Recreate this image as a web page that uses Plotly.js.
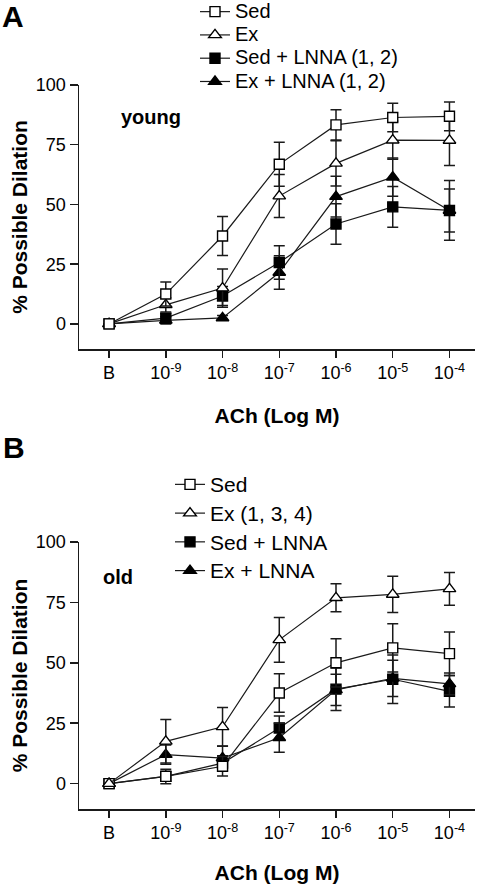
<!DOCTYPE html>
<html>
<head>
<meta charset="utf-8">
<script src="https://cdn.plot.ly/plotly-3.0.1.min.js"></script>
<style>html,body{margin:0;padding:0;background:#fff;}#chart{width:492px;height:884px;}</style>
</head>
<body>
<div id="chart"></div>
<script>
// ---- data ----
const doses = ['B', '10<sup>-9</sup>', '10<sup>-8</sup>', '10<sup>-7</sup>', '10<sup>-6</sup>', '10<sup>-5</sup>', '10<sup>-4</sup>'];
const yTicks = [0, 25, 50, 75, 100];

// Panel A (young)
const youngSed = [0, 12.5, 36.8, 66.8, 83.3, 86.4, 86.9];
const youngSedErr = [0, 5, 8.2, 9.2, 6.3, 6, 6];
const youngEx = [0, 8, 15, 53.5, 67.2, 76.9, 76.8];
const youngExErr = [0, 3, 8, 9, 9.5, 8, 10.5];
const youngSedL = [0, 2.4, 11.7, 25.7, 41.8, 49, 47.5];
const youngSedLErr = [0, 2, 4, 7, 8.5, 8.5, 9];
const youngExL = [0, 1.5, 2.5, 21.5, 53.3, 61.4, 47.5];
const youngExLErr = [0, 1.5, 1, 7, 8.5, 8, 12.5];
const youngNames = ['Sed', 'Ex', 'Sed + LNNA (1, 2)', 'Ex + LNNA (1, 2)'];

// Panel B (old)
const oldSed = [0, 3, 7.2, 37.5, 50, 56.2, 53.8];
const oldSedErr = [0, 3, 4, 8, 10, 10, 9];
const oldEx = [0, 17.5, 23.5, 59.5, 76.9, 78.3, 80.6];
const oldExErr = [0, 9, 8, 9.3, 5.8, 7.5, 6.8];
const oldSedL = [0, 3, 8.5, 23, 39.1, 43.2, 38.2];
const oldSedLErr = [0, 2, 3, 5, 8.8, 10, 6.5];
const oldExL = [0, 12, 10.6, 19, 38.8, 43.6, 41.3];
const oldExLErr = [0, 4, 5, 6, 6.5, 7.5, 4.5];
const oldNames = ['Sed', 'Ex (1, 3, 4)', 'Sed + LNNA', 'Ex + LNNA'];

// ---- styling ----
const W = 492, H = 884, L = 79, R = 17;
const px = x => (x - L) / (W - L - R);
const py = y => 1 - y / H;
const FONT = 'Liberation Sans, Arial, Helvetica, sans-serif';
const INK = '#1a1a1a';

const styles = [
  {symbol: 'square', color: '#fff', size: 10},
  {symbol: 'triangle-up', color: '#fff', size: 11},
  {symbol: 'square', color: '#000', size: 10},
  {symbol: 'triangle-up', color: '#000', size: 11}
];

function mk(y, err, name, st, xa, ya, legend, rank, fs) {
  return {
    x: doses, y: y, name: '<span style="font-size:' + fs + 'px">' + name + '</span>',
    type: 'scatter', mode: 'lines+markers',
    xaxis: xa, yaxis: ya, legend: legend, legendrank: rank, cliponaxis: false,
    line: {color: INK, width: 1.2},
    marker: {symbol: st.symbol, color: st.color, size: st.size, line: {color: '#000', width: 1.4}},
    error_y: {type: 'data', array: err, visible: true, color: INK, thickness: 1.5, width: 5.5}
  };
}

const data = [
  mk(youngExL, youngExLErr, youngNames[3], styles[3], 'x', 'y', 'legend', 4, 20),
  mk(youngSedL, youngSedLErr, youngNames[2], styles[2], 'x', 'y', 'legend', 3, 20),
  mk(youngEx, youngExErr, youngNames[1], styles[1], 'x', 'y', 'legend', 2, 20),
  mk(youngSed, youngSedErr, youngNames[0], styles[0], 'x', 'y', 'legend', 1, 20),
  mk(oldSedL, oldSedLErr, oldNames[2], styles[2], 'x2', 'y2', 'legend2', 3, 21),
  mk(oldExL, oldExLErr, oldNames[3], styles[3], 'x2', 'y2', 'legend2', 4, 21),
  mk(oldSed, oldSedErr, oldNames[0], styles[0], 'x2', 'y2', 'legend2', 1, 21),
  mk(oldEx, oldExErr, oldNames[1], styles[1], 'x2', 'y2', 'legend2', 2, 21)
];

function xAxis(anchor) {
  return {
    anchor: anchor, domain: [0, 1], type: 'category', range: [-0.53, 6.45],
    showline: true, linecolor: INK, linewidth: 1.5, showgrid: false, zeroline: false,
    ticks: 'outside', ticklen: 7, tickwidth: 1.5, tickcolor: INK,
    tickfont: {family: FONT, size: 18, color: '#000'},
    title: {text: '<b>ACh (Log M)</b>', font: {family: FONT, size: 21, color: '#000'}}
  };
}
function yAxis(anchor, dom) {
  return {
    anchor: anchor, domain: dom, range: [-10.5, 100],
    tickvals: yTicks, ticktext: yTicks.map(String),
    showline: true, linecolor: INK, linewidth: 1.5, showgrid: false, zeroline: false,
    ticks: 'outside', ticklen: 8, tickwidth: 1.5, tickcolor: INK,
    tickfont: {family: FONT, size: 18, color: '#000'},
    title: {text: '<b>% Possible Dilation</b>', font: {family: FONT, size: 21, color: '#000'}}
  };
}

const layout = {
  width: W, height: H,
  margin: {l: L, r: R, t: 0, b: 0, autoexpand: false},
  paper_bgcolor: '#fff', plot_bgcolor: 'rgba(0,0,0,0)',
  font: {family: FONT, color: '#000'},
  xaxis: xAxis('y'),
  yaxis: yAxis('x', [py(349), py(85)]),
  xaxis2: xAxis('y2'),
  yaxis2: yAxis('x2', [py(809), py(542)]),
  legend: {
    x: px(195), y: py(-5), xanchor: 'left', yanchor: 'top',
    bgcolor: 'rgba(0,0,0,0)', font: {family: FONT, size: 15.6, color: '#000'},
    traceorder: 'normal', tracegroupgap: 0, itemwidth: 30
  },
  legend2: {
    x: px(170), y: py(465), xanchor: 'left', yanchor: 'top',
    bgcolor: 'rgba(0,0,0,0)', font: {family: FONT, size: 19.8, color: '#000'},
    traceorder: 'normal', tracegroupgap: 0, itemwidth: 30
  },
  showlegend: true,
  annotations: [
    {text: '<b>A</b>', xref: 'paper', yref: 'paper', x: px(0), y: py(16), xanchor: 'left', yanchor: 'middle', showarrow: false, font: {family: FONT, size: 30, color: '#000'}},
    {text: '<b>B</b>', xref: 'paper', yref: 'paper', x: px(1), y: py(447), xanchor: 'left', yanchor: 'middle', showarrow: false, font: {family: FONT, size: 30, color: '#000'}},
    {text: '<b>young</b>', xref: 'paper', yref: 'paper', x: px(119), y: py(117), xanchor: 'left', yanchor: 'middle', showarrow: false, font: {family: FONT, size: 20, color: '#000'}},
    {text: '<b>old</b>', xref: 'paper', yref: 'paper', x: px(101), y: py(577), xanchor: 'left', yanchor: 'middle', showarrow: false, font: {family: FONT, size: 20, color: '#000'}}
  ]
};

Plotly.newPlot('chart', data, layout, {displayModeBar: false, staticPlot: true});
</script>
</body>
</html>
